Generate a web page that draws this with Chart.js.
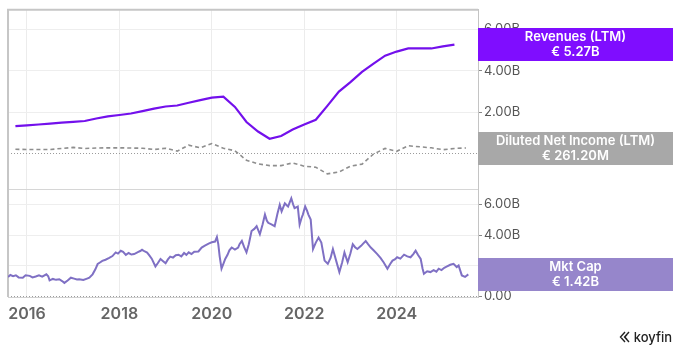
<!DOCTYPE html>
<html>
<head>
<meta charset="utf-8">
<script src="https://cdn.jsdelivr.net/npm/chart.js@4.4.1/dist/chart.umd.min.js"></script>
<style>
  body{margin:0;background:#fff;font-family:Inter,"Noto Sans",sans-serif;}
  #wrap{position:relative;width:679px;height:351px;}
  #brand{position:absolute;right:7px;bottom:6px;display:flex;align-items:center;gap:3px;font-size:13px;font-weight:500;color:#222;}
</style>
</head>
<body>
<div id="wrap">
  <canvas id="koyChart" width="679" height="351"></canvas>
  <div id="brand">
    <svg width="12" height="12" viewBox="0 0 12 12"><path d="M6 1 L1.5 6 L6 11 M10 1 L5.5 6 L10 11 M8 3.5 L5.8 6 L8 8.5" fill="none" stroke="#222" stroke-width="1.4"/></svg>
    <span>koyfin</span>
  </div>
</div>
<script>
// quarter ends (LTM figures)
const quarters = ['2015-09','2015-12','2016-03','2016-06','2016-09','2016-12','2017-03','2017-06','2017-09','2017-12',
  '2018-03','2018-06','2018-09','2018-12','2019-03','2019-06','2019-09','2019-12','2020-03','2020-06',
  '2020-09','2020-12','2021-03','2021-06','2021-09','2021-12','2022-03','2022-06','2022-09','2022-12',
  '2023-03','2023-06','2023-09','2023-12','2024-03','2024-06','2024-09','2024-12','2025-03','2025-06'];

// EUR billions
const revenues = [1.32,1.36,1.40,1.44,1.49,1.53,1.57,1.69,1.79,1.86,
  1.93,2.05,2.17,2.27,2.32,2.45,2.58,2.70,2.75,2.25,
  1.52,1.06,0.71,0.84,1.16,1.40,1.63,2.30,2.99,3.45,
  3.95,4.35,4.73,4.93,5.08,5.08,5.08,5.18,5.27];

const netIncome = [0.20,0.19,0.19,0.19,0.24,0.29,0.24,0.26,0.27,0.27,
  0.26,0.25,0.19,0.25,0.11,0.40,0.27,0.48,0.25,0.13,
  -0.33,-0.51,-0.59,-0.59,-0.46,-0.62,-0.67,-0.99,-0.90,-0.62,
  -0.52,-0.03,0.24,0.10,0.37,0.32,0.27,0.18,0.24,0.2612];

// market cap, EUR billions
const mcapDates = [2015.59,2015.64,2015.70,2015.76,2015.82,2015.91,2015.97,2016.06,2016.12,2016.19,
  2016.26,2016.33,2016.42,2016.46,2016.49,2016.56,2016.63,2016.70,2016.76,2016.81,
  2016.88,2016.95,2017.02,2017.08,2017.13,2017.22,2017.30,2017.35,2017.42,2017.48,
  2017.53,2017.58,2017.63,2017.70,2017.78,2017.85,2017.92,2017.97,2018.03,2018.08,
  2018.14,2018.20,2018.26,2018.32,2018.40,2018.45,2018.49,2018.55,2018.60,2018.64,
  2018.70,2018.78,2018.83,2018.89,2018.94,2019.00,2019.05,2019.10,2019.16,2019.22,
  2019.28,2019.34,2019.40,2019.45,2019.50,2019.56,2019.62,2019.71,2019.78,2019.85,
  2019.93,2020.00,2020.07,2020.11,2020.14,2020.17,2020.21,2020.25,2020.29,2020.34,
  2020.38,2020.43,2020.50,2020.57,2020.60,2020.65,2020.70,2020.75,2020.80,2020.86,
  2020.92,2020.97,2021.04,2021.10,2021.15,2021.19,2021.22,2021.29,2021.36,2021.42,
  2021.47,2021.51,2021.58,2021.62,2021.65,2021.72,2021.76,2021.79,2021.86,2021.90,
  2021.94,2021.97,2022.02,2022.06,2022.09,2022.14,2022.19,2022.25,2022.31,2022.37,
  2022.44,2022.51,2022.57,2022.62,2022.69,2022.76,2022.82,2022.87,2022.94,2023.00,
  2023.05,2023.10,2023.15,2023.23,2023.28,2023.33,2023.38,2023.44,2023.50,2023.58,
  2023.65,2023.72,2023.80,2023.86,2023.91,2023.96,2024.01,2024.08,2024.16,2024.23,
  2024.30,2024.36,2024.41,2024.46,2024.52,2024.56,2024.59,2024.66,2024.73,2024.80,
  2024.86,2024.91,2024.97,2025.03,2025.09,2025.16,2025.23,2025.30,2025.34,2025.41,
  2025.48,2025.55];
const mcapValues = [1.25,1.38,1.30,1.36,1.22,1.20,1.36,1.32,1.22,1.28,
  1.36,1.27,1.42,1.30,1.03,1.12,1.06,1.10,0.98,0.86,
  1.02,1.20,1.14,1.08,1.10,1.05,1.14,1.20,1.42,1.75,
  2.10,2.20,2.30,2.38,2.50,2.62,2.86,2.78,2.97,2.90,
  2.70,2.82,2.72,2.75,2.88,2.95,3.03,2.92,2.85,2.70,
  2.45,1.94,2.15,2.43,2.30,2.15,2.40,2.58,2.52,2.68,
  2.71,2.60,2.82,2.70,2.86,2.75,2.90,2.92,3.18,3.30,
  3.44,3.52,3.57,3.87,3.40,2.60,1.79,2.10,2.43,2.70,
  3.00,3.18,3.05,3.18,3.40,3.61,3.20,2.86,3.40,4.26,
  4.40,4.58,4.05,4.70,5.34,4.95,4.80,4.70,4.58,5.40,
  5.98,5.55,6.08,5.95,5.87,6.41,6.00,5.76,5.87,4.69,
  5.10,5.34,5.87,5.60,5.34,5.01,3.08,3.50,3.83,3.50,
  2.32,2.11,2.50,3.08,2.32,1.57,2.20,2.86,2.21,2.80,
  3.40,3.20,3.08,3.29,3.45,3.61,3.40,3.18,3.00,2.75,
  2.50,2.20,1.79,2.10,2.32,2.40,2.54,2.45,2.71,2.60,
  2.54,2.75,2.97,2.70,2.43,1.80,1.46,1.62,1.57,1.70,
  1.60,1.79,1.70,1.85,1.94,2.05,2.11,1.90,2.00,1.35,
  1.25,1.42];

const yearTicks = [2016,2018,2020,2022,2024];
const valueTicks = [0,2,4,6];

const REV_COLOR = '#7310ec';
const NI_COLOR = '#8e8e8e';
const MCAP_COLOR = '#7f70c4';

function toYear(q){
  const [y,m] = q.split('-').map(Number);
  return y + m/12;
}
const qx = quarters.map(toYear);

const fmtB = v => v === 0 ? '0.00' : v.toFixed(2) + 'B';
const fmtMoney = v => Math.abs(v) < 1 ? '€ ' + (v*1000).toFixed(2) + 'M' : '€ ' + v.toFixed(2) + 'B';

const badges = [
  {label:'Revenues (LTM)', axis:'yTop', values:revenues, color:'#7f0dff'},
  {label:'Diluted Net Income (LTM)', axis:'yTop', values:netIncome, color:'#a8a8a8'},
  {label:'Mkt Cap', axis:'yBot', values:mcapValues, color:'#9686cb'}
];

const framePlugin = {
  id:'frame',
  beforeDatasetsDraw(chart){
    const {ctx, chartArea:a, scales} = chart;
    ctx.save();
    // zero lines
    ctx.strokeStyle = '#9a9a9a';
    ctx.lineWidth = 1;
    ctx.setLineDash([1,2]);
    ['yTop','yBot'].forEach(id => {
      const y = Math.round(scales[id].getPixelForValue(0)) + 0.5;
      ctx.beginPath(); ctx.moveTo(a.left, y); ctx.lineTo(a.right, y); ctx.stroke();
    });
    ctx.setLineDash([]);
    // panel divider
    ctx.strokeStyle = '#d6d6d6';
    const d = Math.round(scales.yBot.top) + 0.5;
    ctx.beginPath(); ctx.moveTo(a.left, d); ctx.lineTo(a.right, d); ctx.stroke();
    // outer frame top + left
    ctx.strokeStyle = '#c6c6c6';
    ctx.lineWidth = 2;
    ctx.beginPath();
    ctx.moveTo(a.left, a.bottom); ctx.lineTo(a.left, a.top); ctx.lineTo(a.right, a.top);
    ctx.stroke();
    ctx.restore();
  },
  afterDraw(chart){
    const {ctx, chartArea:a, scales} = chart;
    ctx.save();
    badges.forEach(b => {
      const last = b.values[b.values.length-1];
      const cy = scales[b.axis].getPixelForValue(last);
      const h = 33, x0 = a.right, w = 195;
      ctx.fillStyle = b.color;
      ctx.fillRect(x0, Math.round(cy - h/2), w, h);
      ctx.fillStyle = '#fff';
      ctx.font = '600 13px Inter';
      ctx.textAlign = 'center';
      ctx.textBaseline = 'middle';
      ctx.fillText(b.label, x0 + w/2, cy - 7);
      ctx.fillText(fmtMoney(last), x0 + w/2, cy + 8);
    });
    ctx.restore();
  }
};

const yAxis = (min, max, weight) => ({
  type:'linear', position:'right', stack:'panels', stackWeight:weight,
  min:min, max:max,
  afterBuildTicks: s => { s.ticks = valueTicks.map(v => ({value:v})); },
  afterFit: s => { s.width = 201; },
  grid:{
    color: c => c.tick && c.tick.value === 0 ? 'rgba(0,0,0,0)' : '#eeeeee',
    tickColor:'#888', tickLength:4, drawTicks:true
  },
  border:{display:true, color:'#c4c4c4'},
  ticks:{padding:2, color:'#555', font:{size:13, family:'Inter'}, callback: v => fmtB(v)}
});

Chart.defaults.font.family = 'Inter';

new Chart(document.getElementById('koyChart'), {
  type:'line',
  data:{
    datasets:[
      {label:'Revenues (LTM)', yAxisID:'yTop', data: revenues.map((v,i) => ({x:qx[i], y:v})),
        borderColor:REV_COLOR, borderWidth:2.2, pointRadius:0, tension:0},
      {label:'Diluted Net Income (LTM)', yAxisID:'yTop', data: netIncome.map((v,i) => ({x:qx[i], y:v})),
        borderColor:NI_COLOR, borderWidth:1.6, borderDash:[4,3], pointRadius:0, tension:0},
      {label:'Mkt Cap', yAxisID:'yBot', data: mcapValues.map((v,i) => ({x:mcapDates[i], y:v})),
        borderColor:MCAP_COLOR, borderWidth:2, pointRadius:0, tension:0}
    ]
  },
  options:{
    responsive:false,
    animation:false,
    layout:{padding:{left:5, top:5, right:0, bottom:0}},
    plugins:{legend:{display:false}, tooltip:{enabled:false}},
    scales:{
      x:{
        type:'linear', position:'bottom', min:2015.59, max:2025.76,
        afterBuildTicks: s => { s.ticks = yearTicks.map(v => ({value:v})); },
        afterFit: s => { s.height = 54; },
        grid:{color:'#ececec', drawTicks:false},
        border:{display:true, color:'#d0d0d0'},
        ticks:{padding:8, color:'#666', font:{size:16, weight:'600', family:'Inter'}, callback: v => String(v)}
      },
      yTop: yAxis(-1.714, 6.952, 182),
      yBot: yAxis(-0.065, 7.03, 110)
    }
  },
  plugins:[framePlugin]
});
</script>
</body>
</html>
